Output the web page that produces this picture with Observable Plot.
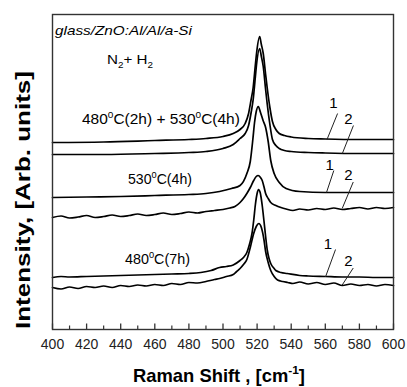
<!DOCTYPE html>
<html><head><meta charset="utf-8">
<script src="https://cdn.jsdelivr.net/npm/d3@7"></script>
<script src="https://cdn.jsdelivr.net/npm/@observablehq/plot@0.6"></script>
<style>body{margin:0;background:#fff} svg{display:block}</style>
</head><body><div id="chart"></div>
<script>
// ---- data (y in arbitrary intensity units) ----
const xTicks = [400,420,440,460,480,500,520,540,560,580,600];
const xMinor = [410,430,450,470,490,510,530,550,570,590];

// 480°C(2h) + 530°C(4h)
const a1x = [400,430,460,480,490,500,506,510,513,515,516.5,517.7,519,519.8,521.5,522.5,523.6,525,525.9,527.5,529,531,533,536,540,550,560,580,600];
const a1y = [187,187.5,189,190,191,193,196,200,206,216,230,242,265,278,293,285,276,255,242,222,208,200,196,194,192.5,191,190.5,190,190];
const a2x = a1x;
const a2y = [175,175,176,177,178,181,185,191,196,204,217,230,253,267,281,273,263,240,226,205,190,184,181,179,178,177,176.5,176,176];

// 530°C(4h)
const b1x = [400,420,440,460,480,490,498,505,510,514,516,517.5,518.5,519.5,520.7,522,523.5,525,526.5,528,530,533,537,545,560,580,600];
const b1y = [132,132.5,133,134,135,136,138,141,144,156,168,190,207,218,223,217,209,202,188,169,156,147,141,138,137,137,137];
const b2x = [400,405,410,415,420,425,430,435,440,445,450,455,460,465,470,475,480,485,490,495,500,504,507,510,512,514,516,518,519.5,520.6,522,523,524,525,526.5,528,531,534,537,541,545,550,555,560,565,570,575,580,585,590,595,600];
const b2y = [112,113.5,111.5,112.5,114,112,113,114.5,113,114,115.5,114,115,116.5,115,116,117.5,116.5,118,119,120,121.5,123,127,131,136,142,149,153,154,152,149,143,136,131,127,124,122,120.5,119,120.5,119.5,121,120,121.5,120,121,122,120.5,122,121,122];

// 480°C(7h)
const c1x = [400,405,410,420,430,440,450,460,470,480,487,493,498,502,506,510,512,514,515.5,517,518,519,520,520.8,521.8,523,524,525,526,527,528,530,531,534,537.6,545,550,560,570,580,590,600];
const c1y = [52,53,52.5,53,53.5,54,54.5,55,55.5,56,57,59,62,63,64.5,69,72,77,85,96,109,125,136,140,137,124,109,93,79,71,66,61,59,57,56,54,53.5,53,52.5,52.5,52,52];
const c2x = [400,405,410,415,420,425,430,435,440,445,450,455,460,465,470,475,480,485,490,495,498,502,506,508,510,512,514,516,518,519.5,521,522.5,524,525,526.5,528,530,532,535,538,541,545,550,555,560,565,570,575,580,585,590,595,600];
const c2y = [42,40.5,42.5,41,43,42,43.5,42,44,43,44.5,43.5,45,44,46,45,47,46.5,48,50,51,53,55,58,61,65,70,82,96,103,106,102,90,78,67,59,53,49.5,48,47,46,47.5,45.5,47,45,46.5,44,45.5,44,45,43.5,45,44];

const curveNames = ["a1","a2","b1","b2","c1","c2"];
const curveData = {a1:[a1x,a1y], a2:[a2x,a2y], b1:[b1x,b1y], b2:[b2x,b2y], c1:[c1x,c1y], c2:[c2x,c2y]};
const rows = curveNames.flatMap(k => curveData[k][0].map((x,i) => ({curve:k, x, y: curveData[k][1][i]})));

const curveLabels = ["1","2","1","2","1","2"];

// ---- layout of annotations (data coordinates) ----
const leaderPos = [
  {lx:564.8, ly:226.5, x1:567.2, y1:216,  x2:561,   y2:190},
  {lx:573.6, ly:210,   x1:576.5, y1:204,  x2:570,   y2:176},
  {lx:562.6, ly:164.5, x1:565,   y1:159,  x2:560.7, y2:137},
  {lx:573.6, ly:154,   x1:576.4, y1:147.5,x2:569.9, y2:121},
  {lx:561.6, ly:85,    x1:566,   y1:80,   x2:560.1, y2:52.5},
  {lx:573.6, ly:68,    x1:576.4, y1:61.5, x2:569.9, y2:44.5}
];
const leaders = leaderPos.map((d,i) => ({...d, label: curveLabels[i]}));

const FONT = "'Liberation Sans', Arial, Helvetica, sans-serif";

const plot = Plot.plot({
  width: 407, height: 387,
  marginLeft: 52, marginRight: 14, marginTop: 14, marginBottom: 58,
  style: {fontFamily: FONT, color: "#111", background: "#fff"},
  x: {domain: [400, 600]},
  y: {domain: [0, 315], axis: null},
  marks: [
    Plot.ruleX(xMinor, {x: d => d, y1: 0, y2: 3.5, stroke: "#333", strokeWidth: 1.2}),
    Plot.ruleX(xTicks, {x: d => d, y1: 0, y2: 5.5, stroke: "#333", strokeWidth: 1.3}),
    Plot.line(rows, {x: "x", y: "y", z: "curve", stroke: "#000", strokeWidth: 1.7, curve: "monotone-x"}),
    Plot.link(leaders, {x1: "x1", y1: "y1", x2: "x2", y2: "y2", stroke: "#222", strokeWidth: 1}),
    Plot.text(leaders, {x: "lx", y: "ly", text: "label", fontSize: 15, fill: "#000", textAnchor: "middle", lineAnchor: "middle"}),
    Plot.frame({stroke: "#333", strokeWidth: 1.4}),
    Plot.axisX(xTicks, {tickSize: 0, tickPadding: 10, fontSize: 14, label: null, fill: "#222"})
  ]
});
document.getElementById("chart").appendChild(plot);

// ---- rich text helper (superscripts / subscripts), fitted to a width ----
function addText(x, y, parts, o) {
  const s = o.size;
  const g = d3.select(plot).append("g").attr("transform", `translate(${x},${y})`);
  const t = g.append("text").attr("font-size", s).attr("font-family", FONT)
    .attr("fill", o.fill || "#000").attr("text-anchor", o.anchor || "start");
  if (o.weight) t.attr("font-weight", o.weight);
  if (o.italic) t.attr("font-style", "italic");
  let shift = 0;
  for (const [str, kind] of parts) {
    const sp = t.append("tspan").text(str);
    let target = 0;
    if (kind === "sup") { sp.attr("font-size", s * 0.65); target = -s * 0.42; }
    if (kind === "sub") { sp.attr("font-size", s * 0.65); target = s * 0.3; }
    if (target !== shift) { sp.attr("dy", target - shift); shift = target; }
  }
  if (o.width) {
    const len = t.node().getComputedTextLength();
    const k = o.width / len;
    t.attr("transform", (o.rotate ? `rotate(${o.rotate}) ` : "") + `scale(${k},1)`);
  } else if (o.rotate) t.attr("transform", `rotate(${o.rotate})`);
  return t;
}

addText(55, 35, [["glass/ZnO:Al/Al/a-Si"]], {size: 12.5, italic: true, width: 137});
addText(107, 64, [["N"], ["2","sub"], ["+ H"], ["2","sub"]], {size: 13, width: 46});
addText(82, 124, [["480"], ["0","sup"], ["C(2h) + 530"], ["0","sup"], ["C(4h)"]], {size: 14, width: 158});
addText(128, 184, [["530"], ["0","sup"], ["C(4h)"]], {size: 14, width: 64});
addText(125, 264, [["480"], ["0","sup"], ["C(7h)"]], {size: 14, width: 65});
addText(219, 382, [["Raman Shift , [cm"], ["-1","sup"], ["]"]], {size: 18, weight: "bold", anchor: "middle", width: 172});
addText(30, 200, [["Intensity, [Arb. units]"]], {size: 20, weight: "bold", anchor: "middle", rotate: -90, width: 258});
</script>
</body></html>
